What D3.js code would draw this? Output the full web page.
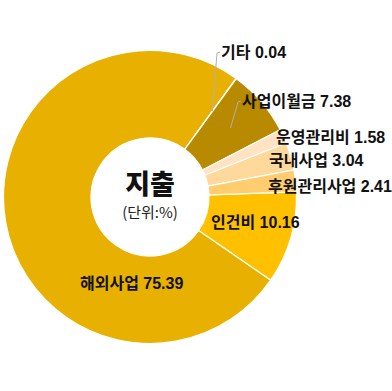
<!DOCTYPE html>
<html>
<head>
<meta charset="utf-8">
<script src="https://cdn.jsdelivr.net/npm/d3@7"></script>
<style>
  html, body { margin: 0; padding: 0; background: #fff; }
  svg text { font-family: "Liberation Sans", "Noto Sans CJK KR", sans-serif; }
  svg text.ko { font-family: "Noto Sans CJK KR", "Noto Sans", sans-serif; }
</style>
</head>
<body>
<svg id="chart" width="392" height="391"></svg>
<script>
// ---- data ----
const categories = ["인건비", "해외사업", "기타", "사업이월금", "운영관리비", "국내사업", "후원관리사업"];
const values = [10.16, 75.39, 0.04, 7.38, 1.58, 3.04, 2.41];
const valueLabels = ["10.16", "75.39", "0.04", "7.38", "1.58", "3.04", "2.41"];
const centerTitle = "지출";
const centerSub = "(단위:%)";

// ---- styles / layout ----
const colors = ["#FFC000", "#E8B000", "#E8B000", "#B88A00", "#FFE3C2", "#FFD89C", "#FFCC6E"];
const cx = 150, cy = 197, rOuter = 146.5, rInner = 59;
const startDeg = 88;
// label anchor offsets (start anchor, baseline) relative to chart centre
const labelOffsets = [[61, 31], [-70, 92], [71, -139], [92, -90], [126, -54], [119, -31], [118, -5]];
const leaderIdx = [2, 3]; // labels with leader lines

const svg = d3.select("#chart");
const g = svg.append("g").attr("transform", `translate(${cx},${cy})`);

const a0 = startDeg * Math.PI / 180;
const pie = d3.pie().sort(null).value(d => d).startAngle(a0).endAngle(a0 + 2 * Math.PI);
const arcs = pie(values);
const arc = d3.arc().innerRadius(rInner).outerRadius(rOuter);
const midArc = d3.arc().innerRadius(102).outerRadius(110);

g.selectAll("path.slice").data(arcs).join("path")
  .attr("class", "slice")
  .attr("d", arc)
  .attr("fill", (d, i) => colors[i])
  .attr("stroke", "#fff")
  .attr("stroke-width", 1.2);

// leader lines
leaderIdx.forEach(i => {
  const c = midArc.centroid(arcs[i]);
  const [lx, ly] = labelOffsets[i];
  const topY = ly - 6;
  g.append("path")
    .attr("d", `M${lx - 1},${topY} L${lx - 4},${topY + 1} L${c[0]},${c[1]}`)
    .attr("fill", "none")
    .attr("stroke", "#b0b0b0")
    .attr("stroke-width", 1);
});

// labels
g.selectAll("text.lbl").data(arcs).join("text")
  .attr("class", "lbl")
  .attr("x", (d, i) => labelOffsets[i][0])
  .attr("y", (d, i) => labelOffsets[i][1])
  .attr("font-size", 16)
  .attr("font-weight", 700)
  .attr("fill", "#111")
  .text((d, i) => `${categories[i]} ${valueLabels[i]}`);

// centre text
g.append("text")
  .attr("class", "ko")
  .attr("x", 0).attr("y", -3)
  .attr("text-anchor", "middle")
  .attr("font-size", 27)
  .attr("font-weight", 900)
  .attr("fill", "#111")
  .text(centerTitle);
g.append("text")
  .attr("class", "ko")
  .attr("x", 0).attr("y", 21)
  .attr("text-anchor", "middle")
  .attr("font-size", 15)
  .attr("fill", "#222")
  .text(centerSub);
</script>
</body>
</html>
